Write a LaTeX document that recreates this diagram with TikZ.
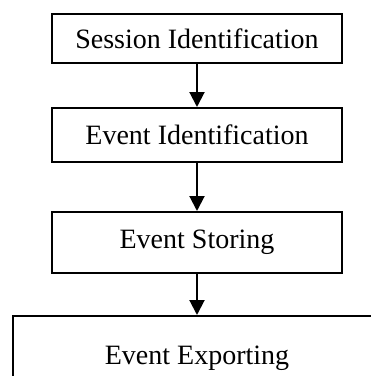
\documentclass[tikz,border=0pt]{standalone}
\usepackage{fontspec}
\setmainfont{Liberation Serif}
\usetikzlibrary{arrows.meta}

\begin{document}
\begin{tikzpicture}[x=1pt, y=-1pt,
    stage/.style={draw, line width=2pt, minimum width=290pt, inner sep=0pt,
                  font=\fontsize{28}{34}\selectfont},
    flow/.style={line width=2pt, -{Triangle[width=15pt, length=15pt]}}]
  \useasboundingbox (0,0) rectangle (371,376);
  \clip (0,0) rectangle (371,376);

  \node[stage, minimum height=49pt] (session) at (197,38.5) {Session Identification};
  \node[stage, minimum height=54pt] (ident) at (197,135) {Event Identification};
  \node[stage, minimum height=61pt] (store) at (197,242.5) {Event Storing};
  \node[stage, minimum width=368pt, minimum height=85pt] (export) at (197,358.5) {Event Exporting};

  \draw[flow] (session) -- (ident);
  \draw[flow] (ident) -- (store);
  \draw[flow] (store) -- (export);
\end{tikzpicture}
\end{document}
